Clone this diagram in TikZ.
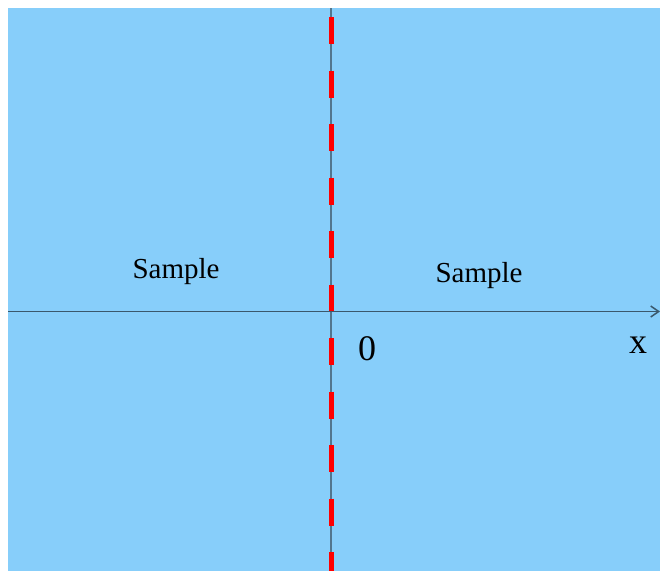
\documentclass[tikz,border=0pt]{standalone}
\usepackage{fontspec}
\setmainfont{Liberation Serif}
\usetikzlibrary{arrows.meta}

\definecolor{skyfill}{RGB}{135,206,250}
\definecolor{axisgray}{RGB}{58,88,108}
\definecolor{linegray}{RGB}{82,118,142}

\begin{document}
\begin{tikzpicture}[x=1pt, y=-1pt,
    lbl/.style={anchor=base, font=\fontsize{29}{32}\selectfont},
    axlbl/.style={anchor=base, font=\fontsize{36}{40}\selectfont}]

  % Canvas and sample region
  \useasboundingbox (0,0) rectangle (660,571);
  \fill[skyfill] (8,8) rectangle (660,571);

  % Axis end points
  \coordinate (top) at (331,8);
  \coordinate (bot) at (331,571);
  \coordinate (dtop) at (331,17);
  \coordinate (left) at (8,311.5);
  \coordinate (right) at (660,311.5);

  % Interface
  \draw[linegray, line width=1.2pt] (top) -- (bot);
  \draw[red, line width=5pt, dash pattern=on 27pt off 26.5pt] (dtop) -- (bot);

  % x axis
  \draw[axisgray, line width=1.5pt, -{Straight Barb[length=8pt,width=11pt]}] (left) -- (right);

  \node[lbl] (sl) at (176,278) {Sample};
  \node[lbl] (sr) at (479,282) {Sample};
  \node[axlbl] (zero) at (367,360) {0};
  \node[axlbl] (xl) at (638,353) {x};
\end{tikzpicture}
\end{document}
